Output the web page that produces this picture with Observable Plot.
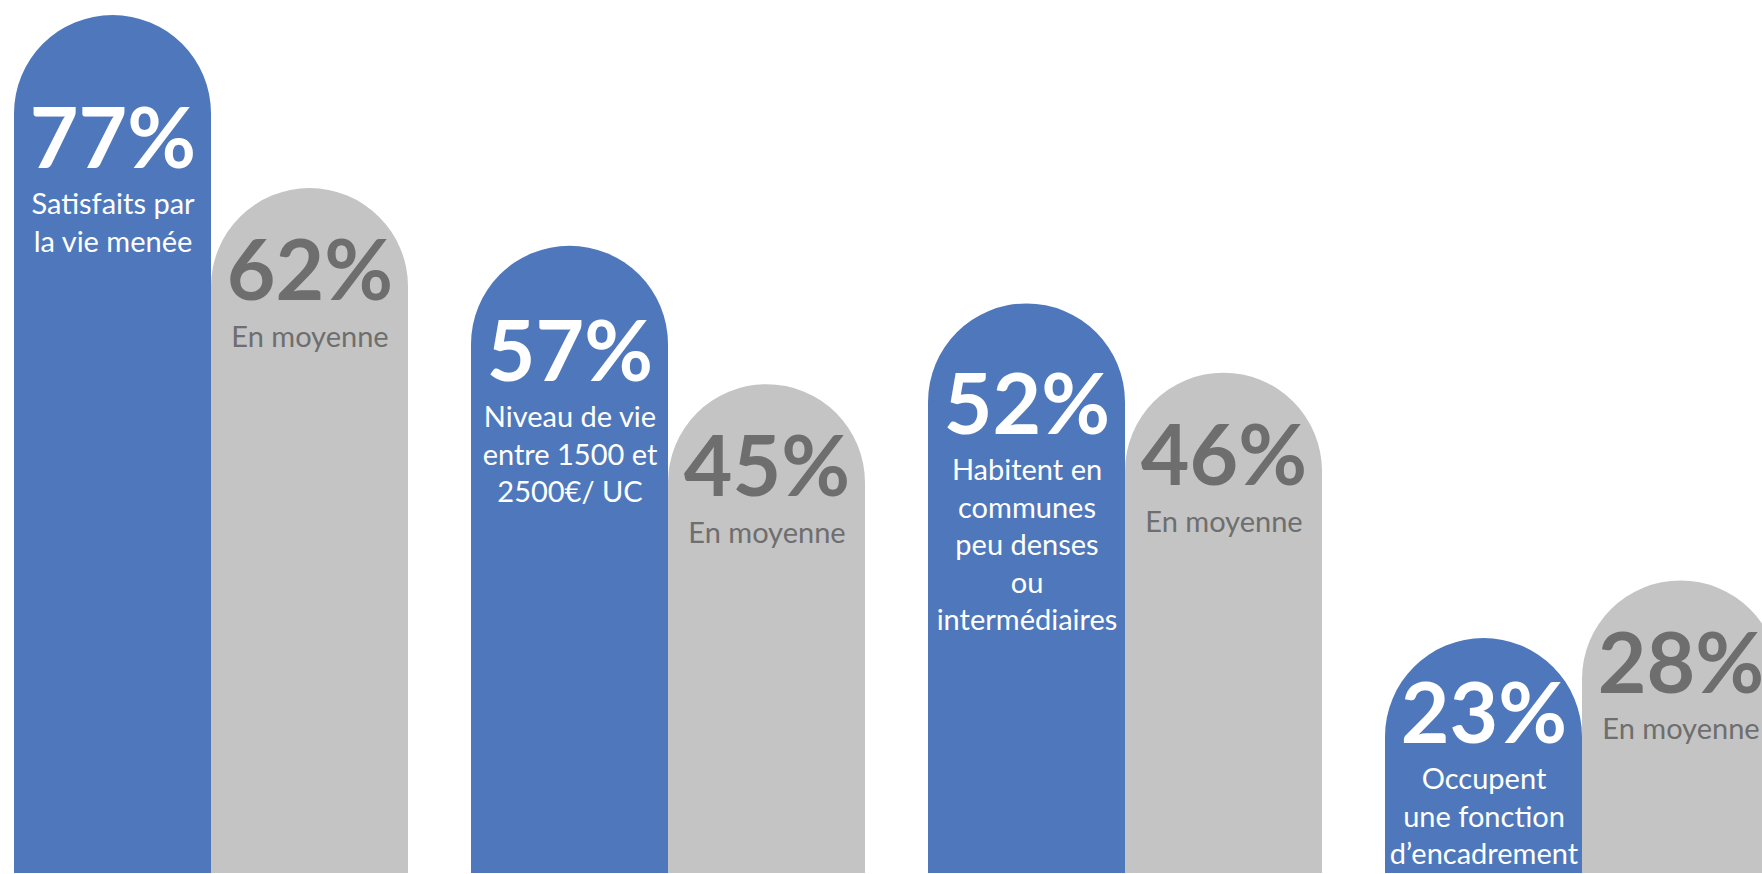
<!DOCTYPE html>
<html>
<head>
<meta charset="utf-8">
<script src="https://cdn.jsdelivr.net/npm/d3@7"></script>
<script src="https://cdn.jsdelivr.net/npm/@observablehq/plot@0.6"></script>
<style>
  html, body { margin: 0; padding: 0; background: #ffffff; overflow: hidden; }
  #chart svg { display: block; }
</style>
</head>
<body>
<div id="chart"></div>
<script>
// Categories (one per pair of bars)
const groups = [
  "Satisfaits par la vie menée",
  "Niveau de vie entre 1500 et 2500€/ UC",
  "Habitent en communes peu denses ou intermédiaires",
  "Occupent une fonction d’encadrement"
];
// Labels as written inside the blue bars
const groupLabels = [
  "Satisfaits par\nla vie menée",
  "Niveau de vie\nentre 1500 et\n2500€/ UC",
  "Habitent en\ncommunes\npeu denses\nou\nintermédiaires",
  "Occupent\nune fonction\nd’encadrement"
];
// Series values (%)
const groupValues = [77, 57, 52, 23];
const averageValues = [62, 45, 46, 28];
const averageLabel = "En moyenne";
const seriesNames = ["Groupe", "Moyenne"];

const rows = groups.flatMap((g, i) => [
  {group: g, series: "Groupe", value: groupValues[i], label: groupLabels[i]},
  {group: g, series: "Moyenne", value: averageValues[i], label: averageLabel}
]);
const blueRows = rows.filter(d => d.series === "Groupe");
const grayRows = rows.filter(d => d.series === "Moyenne");

// Blue-bar labels sit a little deeper inside taller bars (as in the original)
const blueTextAnchor = d => 0.9231 * d.value - 7.07;

const blue = "#4F78BC";
const gray = "#C4C4C4";
const grayText = "#6E6E6E";
const font = "Lato, 'Open Sans', sans-serif";

const chart = Plot.plot({
  width: 1762,
  height: 874,
  marginTop: 0,
  marginBottom: 1,
  marginLeft: 14,
  marginRight: -17,
  style: {fontFamily: font, background: "#ffffff"},
  fx: {domain: groups, paddingInner: 0.138, paddingOuter: 0, axis: null},
  x: {domain: seriesNames, padding: 0, axis: null},
  y: {domain: [2.64, 78.3], axis: null},
  color: {domain: seriesNames, range: [blue, gray]},
  marks: [
    Plot.barY(rows, {
      fx: "group", x: "series", y: "value", fill: "series",
      ry1: 99, clip: true
    }),
    Plot.text(blueRows, {
      fx: "group", x: "series", y: blueTextAnchor,
      text: d => d.value + "%",
      fill: "#ffffff", fontSize: 84, fontWeight: 700,
      lineAnchor: "top", dy: -57.5
    }),
    Plot.text(blueRows, {
      fx: "group", x: "series", y: blueTextAnchor,
      text: "label",
      fill: "#ffffff", fontSize: 29, lineHeight: 1.293,
      lineAnchor: "top", dy: 22
    }),
    Plot.text(grayRows, {
      fx: "group", x: "series", y: "value",
      text: d => d.value + "%",
      fill: grayText, fontSize: 84, fontWeight: 700,
      lineAnchor: "top", dy: 52
    }),
    Plot.text(grayRows, {
      fx: "group", x: "series", y: "value",
      text: "label",
      fill: grayText, fontSize: 29,
      lineAnchor: "top", dy: 138
    })
  ]
});
document.getElementById("chart").appendChild(chart);
</script>
</body>
</html>
